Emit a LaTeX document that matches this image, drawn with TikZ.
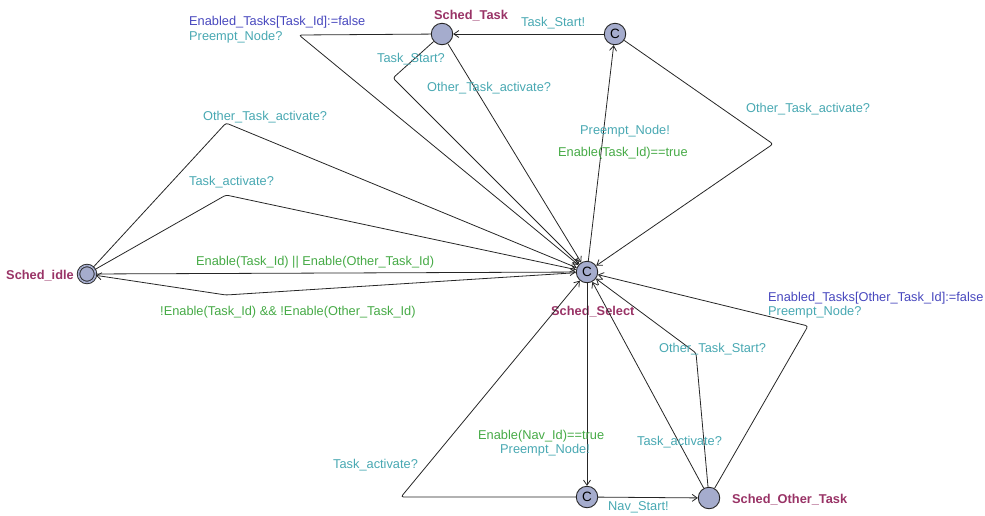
\documentclass[tikz,border=0pt]{standalone}
\usepackage{fontspec}
\setmainfont{Liberation Sans}
\usetikzlibrary{arrows.meta}
\definecolor{locfill}{RGB}{165,172,205}
\definecolor{locname}{RGB}{153,51,102}
\definecolor{synccol}{RGB}{72,168,178}
\definecolor{guardcol}{RGB}{70,170,70}
\definecolor{assigncol}{RGB}{72,72,190}
\tikzset{
  loc/.style={circle, draw=black!85, line width=0.9pt, fill=locfill,
    minimum size=21.5pt, inner sep=0pt, font=\fontsize{13.5}{13.5}\selectfont},
  initloc/.style={loc, minimum size=17pt, double=locfill, double distance=1.6pt},
  edge/.style={draw=black!85, line width=0.8pt, rounded corners=2.5pt,
    -{Straight Barb[length=5pt,width=7pt]}},
  lbl/.style={inner sep=0pt, font=\fontsize{12.8}{15}\selectfont},
  lname/.style={lbl, text=locname, font=\fontsize{12.8}{15}\selectfont\bfseries},
  sync/.style={lbl, text=synccol},
  guard/.style={lbl, text=guardcol},
  assign/.style={lbl, text=assigncol}
}
\begin{document}
\begin{tikzpicture}[x=1pt, y=-1pt]
\useasboundingbox (0,0) rectangle (985,515);

% locations
\node[loc] (task) at (442,34) {};
\node[loc] (ctop) at (615,34) {C};
\node[loc] (sel) at (587,272) {C};
\node[loc] (cbot) at (587,497) {C};
\node[loc] (other) at (709,498) {};
\node[initloc] (idle) at (87,274) {};

% location names
\node[lname, anchor=west] (ntask) at (434,16) {Sched\_Task};
\node[lname, anchor=east] (nidle) at (74,276) {Sched\_idle};
\node[lname, anchor=west] (nsel) at (551,312) {Sched\_Select};
\node[lname, anchor=west] (nother) at (732,500) {Sched\_Other\_Task};

% bend points
\coordinate (b1) at (299,35);
\coordinate (b2) at (393,78);
\coordinate (b3) at (773,144);
\coordinate (b4) at (226,123);
\coordinate (b5) at (226,195);
\coordinate (b6) at (226,295);
\coordinate (b7) at (401,497);
\coordinate (b8) at (696,353);
\coordinate (b9) at (808,326);

% transitions
\draw[edge] (task) -- (b1) -- (sel);
\draw[edge] (task) -- (b2) -- (sel);
\draw[edge] (task) -- (sel);
\draw[edge] (ctop) -- (task);
\draw[edge] (sel) -- (ctop);
\draw[edge] (ctop) -- (b3) -- (sel);
\draw[edge] (idle) -- (b4) -- (sel);
\draw[edge] (idle) -- (b5) -- (sel);
\draw[edge] (idle) -- (sel);
\draw[edge] (sel) -- (b6) -- (idle);
\draw[edge] (sel) -- (cbot);
\draw[edge] (cbot) -- (other);
\draw[edge] (cbot) -- (b7) -- (sel);
\draw[edge] (other) -- (sel);
\draw[edge] (other) -- (b8) -- (sel);
\draw[edge] (other) -- (b9) -- (sel);

% transition labels
\node[assign, anchor=west] (l1) at (189,22) {Enabled\_Tasks[Task\_Id]:=false};
\node[sync, anchor=west] (l2) at (189,37) {Preempt\_Node?};
\node[sync, anchor=west] (l3) at (521,23) {Task\_Start!};
\node[sync, anchor=west] (l4) at (377,59) {Task\_Start?};
\node[sync, anchor=west] (l5) at (427,88) {Other\_Task\_activate?};
\node[sync, anchor=west] (l6) at (746,109) {Other\_Task\_activate?};
\node[sync, anchor=west] (l7) at (580,131) {Preempt\_Node!};
\node[guard, anchor=west] (l8) at (558,153) {Enable(Task\_Id)==true};
\node[sync, anchor=west] (l9) at (203,117) {Other\_Task\_activate?};
\node[sync, anchor=west] (l10) at (189,182) {Task\_activate?};
\node[guard, anchor=west] (l11) at (196,262) {Enable(Task\_Id) || Enable(Other\_Task\_Id)};
\node[guard, anchor=west] (l12) at (160,312) {!Enable(Task\_Id) \&\& !Enable(Other\_Task\_Id)};
\node[assign, anchor=west] (l13) at (768,298) {Enabled\_Tasks[Other\_Task\_Id]:=false};
\node[sync, anchor=west] (l14) at (768,312) {Preempt\_Node?};
\node[sync, anchor=west] (l15) at (659,349) {Other\_Task\_Start?};
\node[guard, anchor=west] (l16) at (478,436) {Enable(Nav\_Id)==true};
\node[sync, anchor=west] (l17) at (500,450) {Preempt\_Node!};
\node[sync, anchor=west] (l18) at (333,465) {Task\_activate?};
\node[sync, anchor=west] (l19) at (637,442) {Task\_activate?};
\node[sync, anchor=west] (l20) at (608,507) {Nav\_Start!};
\end{tikzpicture}
\end{document}
